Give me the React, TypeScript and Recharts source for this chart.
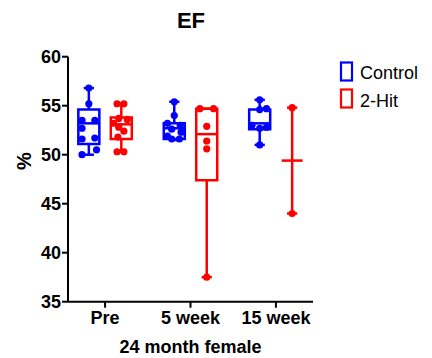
import React from "react";
import {
  ComposedChart,
  ReferenceArea,
  ReferenceLine,
  Scatter,
  XAxis,
  YAxis,
} from "recharts";

const categories = ["Pre", "5 week", "15 week"];
const yTicks = [35, 40, 45, 50, 55, 60];

// individual animals, EF (%)
const controlValues = [
  [56.8, 55.2, 53.5, 53.5, 52.7, 51.6, 51.7, 50.5, 50.0],
  [55.4, 54.0, 53.2, 53.0, 52.6, 52.3, 51.9, 51.6, 51.6],
  [55.6, 54.6, 54.7, 53.0, 52.7, 52.8, 51.0],
];
const controlJitter = [
  [0, 0, -0.08, 0.07, -0.08, -0.08, 0.07, 0.09, -0.08],
  [0, 0, -0.08, 0.07, -0.03, 0.08, -0.08, -0.03, 0.06],
  [0, 0, 0.08, -0.09, 0, 0.08, 0],
];
const hitValues = [
  [55.2, 55.2, 53.7, 53.6, 53.2, 52.8, 52.4, 51.8, 50.3, 50.3],
  [54.7, 54.7, 52.9, 51.4, 50.6, 37.5],
  [54.8, 44.0],
];
const hitJitter = [
  [-0.05, 0.03, -0.03, 0.07, -0.09, -0.03, 0.03, -0.04, -0.05, 0.03],
  [-0.08, 0.08, 0, 0, 0, 0],
  [0, 0],
];

// [min, q1, median, q3, max]; null quartiles = no box drawn (n = 2)
const controlBox = [
  [50.0, 51.1, 53.2, 54.6, 56.8],
  [51.5, 51.6, 52.7, 53.2, 55.4],
  [51.0, 52.6, 53.2, 54.6, 55.6],
];
const hitBox = [
  [50.3, 51.6, 53.1, 53.8, 55.2],
  [37.5, 47.4, 52.1, 54.7, 54.7],
  [44.0, null, 49.4, null, 54.8],
];

const BLUE = "#0000ff";
const RED = "#ff0000";
const OFFSET = 0.19;
const HALF = 0.123;
const CAP = 0.06;
const FONT = "'Liberation Sans', Arial, sans-serif";

const toPoints = (values: number[][], jitter: number[][], shift: number) =>
  values.flatMap((grp, i) =>
    grp.map((y, j) => ({ x: i + 1 + shift + jitter[i][j], y }))
  );

const controlPoints = toPoints(controlValues, controlJitter, -OFFSET);
const hitPoints = toPoints(hitValues, hitJitter, OFFSET);

function boxParts(boxes: (number | null)[][], shift: number, color: string, key: string) {
  const out: React.ReactNode[] = [];
  boxes.forEach((b, i) => {
    const cx = i + 1 + shift;
    const [min, q1, med, q3, max] = b as number[];
    const line = (k: string, x1: number, y1: number, x2: number, y2: number) => (
      <ReferenceLine
        key={`${key}-${i}-${k}`}
        segment={[{ x: x1, y: y1 }, { x: x2, y: y2 }]}
        stroke={color}
        strokeWidth={2.5}
      />
    );
    if (b[1] !== null && b[3] !== null) {
      out.push(
        <ReferenceArea
          key={`${key}-${i}-box`}
          x1={cx - HALF}
          x2={cx + HALF}
          y1={q1}
          y2={q3}
          fill="none"
          stroke={color}
          strokeWidth={2.5}
        />
      );
      out.push(line("lo", cx, min, cx, q1));
      out.push(line("hi", cx, q3, cx, max));
    } else {
      out.push(line("whisker", cx, min, cx, max));
    }
    out.push(line("med", cx - HALF, med, cx + HALF, med));
    out.push(line("capLo", cx - CAP, min, cx + CAP, min));
    out.push(line("capHi", cx - CAP, max, cx + CAP, max));
  });
  return out;
}

const dot = (color: string) => (p: any) =>
  <circle cx={p.cx} cy={p.cy} r={3.6} fill={color} />;

export default function App() {
  return (
    <div
      style={{
        position: "absolute",
        left: 0,
        top: 0,
        width: 432,
        height: 358,
        background: "#fff",
        fontFamily: FONT,
      }}
    >
      <ComposedChart
        width={432}
        height={358}
        margin={{ top: 56.7, right: 119, bottom: 4.3, left: 0 }}
      >
        <XAxis
          type="number"
          dataKey="x"
          domain={[0.566, 3.434]}
          ticks={[1, 2, 3]}
          tickFormatter={(v: number) => categories[v - 1]}
          allowDataOverflow
          height={52}
          tickSize={6}
          tickMargin={4}
          axisLine={{ stroke: "#000", strokeWidth: 2 }}
          tickLine={{ stroke: "#000", strokeWidth: 2 }}
          tick={{ fill: "#000", fontSize: 18, fontWeight: 700, fontFamily: FONT }}
          label={{
            value: "24 month female",
            position: "insideBottom",
            offset: 1,
            fill: "#000",
            fontSize: 18,
            fontWeight: 700,
            fontFamily: FONT,
          }}
        />
        <YAxis
          type="number"
          dataKey="y"
          domain={[35, 60]}
          ticks={yTicks}
          width={68}
          tickSize={6}
          tickMargin={1}
          axisLine={{ stroke: "#000", strokeWidth: 2 }}
          tickLine={{ stroke: "#000", strokeWidth: 2 }}
          tick={{ fill: "#000", fontSize: 18, fontWeight: 700, fontFamily: FONT }}
          label={{
            content: () => (
              <text
                x={31}
                y={161}
                transform="rotate(-90 31 161)"
                textAnchor="middle"
                fill="#000"
                fontSize={20}
                fontWeight={700}
                fontFamily={FONT}
              >
                %
              </text>
            ),
          }}
        />
        {boxParts(controlBox, -OFFSET, BLUE, "c")}
        {boxParts(hitBox, OFFSET, RED, "h")}
        <Scatter
          name="Control"
          data={controlPoints}
          shape={dot(BLUE)}
          isAnimationActive={false}
        />
        <Scatter
          name="2-Hit"
          data={hitPoints}
          shape={dot(RED)}
          isAnimationActive={false}
        />
      </ComposedChart>
      <svg
        width={432}
        height={358}
        style={{ position: "absolute", left: 0, top: 0, pointerEvents: "none" }}
      >
        <text
          x={191}
          y={28}
          textAnchor="middle"
          fontSize={22}
          fontWeight={700}
          fontFamily={FONT}
          fill="#000"
        >
          EF
        </text>
        <rect x={341} y={62.5} width={11} height={18} fill="none" stroke={BLUE} strokeWidth={2.2} />
        <text x={360} y={79} fontSize={18} fontFamily={FONT} fill="#000">
          Control
        </text>
        <rect x={341} y={89.5} width={11} height={18} fill="none" stroke={RED} strokeWidth={2.2} />
        <text x={360} y={106.5} fontSize={18} fontFamily={FONT} fill="#000">
          2-Hit
        </text>
      </svg>
    </div>
  );
}
